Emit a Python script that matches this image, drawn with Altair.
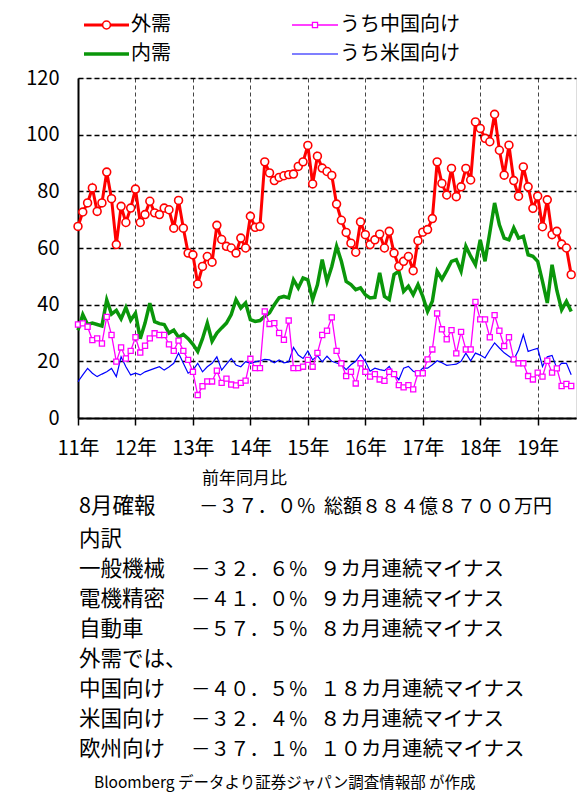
import altair as alt
import pandas as pd

# ---------------- data ----------------
YEAR_LABELS = ["11年", "12年", "13年", "14年", "15年", "16年", "17年", "18年", "19年"]
SERIES_NAMES = ["外需", "内需", "うち中国向け", "うち米国向け"]
Y_TICKS = [0, 20, 40, 60, 80, 100, 120]

gaiju = [67.6, 72.7, 75.9, 81.2, 72.9, 75.9, 86.8, 77.4, 61.2, 74.7, 69.0, 74.1,
         80.8, 69.0, 71.8, 76.5, 72.4, 71.8, 74.1, 73.5, 67.0, 76.8, 67.0, 58.2,
         57.6, 47.3, 53.5, 57.0, 55.0, 68.0, 63.0, 60.6, 60.0, 58.2, 63.5, 60.0,
         71.2, 67.3, 67.6, 90.4, 86.5, 83.8, 84.9, 85.5, 85.9, 86.1, 88.8, 90.4,
         96.2, 82.6, 92.4, 88.2, 87.0, 85.6, 75.5, 69.8, 65.5, 61.7, 58.5, 69.2,
         64.7, 61.2, 62.9, 64.9, 60.0, 65.9, 58.2, 53.5, 55.3, 57.0, 52.0, 62.6,
         65.6, 66.5, 70.4, 90.4, 82.8, 78.7, 88.1, 78.1, 81.6, 88.1, 84.0, 104.5,
         102.2, 98.7, 97.5, 107.2, 94.5, 85.7, 96.3, 83.8, 78.3, 88.6, 81.6, 74.0,
         78.3, 67.5, 77.0, 64.7, 65.9, 61.4, 60.0, 50.6]

naiju = [31.0, 36.5, 33.0, 33.5, 33.0, 32.5, 41.7, 36.7, 38.0, 35.0, 39.0, 34.5,
         37.0, 28.0, 33.5, 40.5, 34.0, 33.3, 33.0, 30.0, 31.0, 28.5, 29.5, 28.0,
         26.0, 23.5, 28.0, 33.5, 27.1, 30.0, 31.8, 33.5, 36.5, 41.8, 38.8, 40.6,
         34.7, 34.1, 34.4, 35.9, 37.1, 40.0, 42.4, 42.9, 42.4, 48.8, 45.9, 49.4,
         48.8, 41.8, 47.0, 55.9, 48.2, 53.5, 60.6, 55.3, 48.2, 47.1, 45.3, 45.9,
         43.5, 42.4, 42.6, 51.2, 42.9, 41.8, 50.6, 51.8, 44.7, 46.5, 43.5, 47.1,
         42.9, 37.6, 41.2, 51.8, 49.0, 52.0, 55.3, 55.9, 51.8, 60.6, 57.1, 54.1,
         62.9, 55.3, 65.5, 75.9, 68.2, 63.5, 62.9, 67.1, 63.5, 64.1, 57.6, 57.1,
         55.3, 48.2, 40.6, 54.1, 45.0, 38.2, 41.2, 37.6]

china = [33.0, 33.4, 32.2, 27.5, 28.1, 26.3, 35.7, 29.3, 19.9, 24.9, 21.0, 23.7,
         28.5, 23.1, 25.5, 28.1, 29.9, 29.3, 29.3, 26.0, 23.7, 27.3, 23.7, 20.5,
         16.3, 8.1, 11.2, 12.9, 12.9, 16.7, 12.4, 13.9, 11.8, 11.5, 12.4, 13.2,
         20.9, 17.6, 17.6, 37.6, 33.2, 33.5, 30.0, 27.6, 34.4, 17.6, 17.6, 18.1,
         20.5, 18.1, 23.0, 29.3, 30.8, 35.5, 23.7, 19.3, 14.8, 16.3, 12.2, 19.3,
         16.3, 14.6, 15.5, 13.6, 13.1, 16.3, 15.5, 11.6, 10.8, 11.6, 10.1, 15.8,
         15.8, 20.7, 24.2, 36.9, 31.3, 27.8, 31.0, 22.8, 30.4, 24.2, 24.2, 41.0,
         34.8, 34.8, 28.5, 36.3, 30.8, 25.4, 28.5, 20.7, 19.3, 19.3, 14.8, 13.6,
         16.0, 14.6, 20.2, 16.0, 17.5, 11.3, 12.0, 11.3]

usa = [12.8, 15.2, 17.5, 15.8, 14.6, 15.5, 16.3, 17.5, 14.6, 21.6, 18.1, 15.2,
       15.8, 15.2, 16.3, 16.9, 17.5, 18.1, 16.9, 18.0, 19.3, 22.9, 19.3, 15.8,
       16.9, 19.3, 16.3, 18.1, 19.3, 21.6, 16.9, 19.0, 21.0, 18.7, 18.1, 19.9,
       19.3, 19.8, 20.2, 20.7, 20.5, 19.5, 20.5, 19.5, 19.8, 24.9, 22.2, 21.0,
       23.7, 20.5, 22.0, 19.8, 21.8, 20.0, 19.4, 18.8, 17.1, 18.8, 20.0, 22.4,
       20.0, 16.5, 17.6, 17.1, 16.7, 18.2, 15.5, 13.5, 17.6, 18.2, 16.5, 15.9,
       17.6, 17.6, 18.8, 20.2, 19.5, 18.6, 18.8, 19.0, 20.0, 22.9, 20.2, 22.9,
       22.2, 21.2, 24.0, 26.5, 24.7, 23.0, 21.8, 20.6, 24.0, 29.4, 23.5, 24.1,
       24.6, 18.2, 21.6, 22.1, 17.5, 19.4, 19.3, 15.3]

NOTE_HEAD = "前年同月比"
NOTE_LABELS = ["8月確報", "内訳", "一般機械", "電機精密", "自動車", "外需では、",
               "中国向け", "米国向け", "欧州向け"]
NOTE_VALUES = ["－３７．０％", "", "－３２．６％", "－４１．０％", "－５７．５％", "",
               "－４０．５％", "－３２．４％", "－３７．１％"]
NOTE_DESCS = ["総額８８４億８７００万円", "", "９カ月連続マイナス", "９カ月連続マイナス",
              "８カ月連続マイナス", "", "１８カ月連続マイナス", " ８カ月連続マイナス",
              "１０カ月連続マイナス"]
SOURCE = "Bloomberg データより証券ジャパン調査情報部 が作成"

# ---------------- layout / style ----------------
FONT = "Noto Sans CJK JP"
W, H = 498, 340
N_MONTHS = 104
OX, OY = 78, 78  # page position of the plot origin
RED, GREEN, MAGENTA, BLUE = "#ff0000", "#0a960a", "#ff00ff", "#0000ff"

months = list(range(len(gaiju)))
wide = pd.DataFrame({"m": months, "外需": gaiju, "内需": naiju,
                     "うち中国向け": china, "うち米国向け": usa})
long = wide.melt(id_vars="m", var_name="series", value_name="v")

label_arr = "[" + ",".join("'%s'" % s for s in YEAR_LABELS) + "]"

x_enc = alt.X("m:Q",
              scale=alt.Scale(domain=[0, N_MONTHS], nice=False, zero=False),
              axis=alt.Axis(values=[12 * i for i in range(len(YEAR_LABELS))],
                            labelExpr=label_arr + "[round(datum.value/12)]",
                            title=None, grid=True, gridColor="#444", gridDash=[4, 3],
                            gridWidth=1, tickSize=7, tickColor="#000", tickWidth=1.5,
                            domainColor="#000", domainWidth=2,
                            labelFont=FONT, labelFontSize=20, labelColor="#000",
                            labelPadding=13, labelFlush=False))
y_enc = alt.Y("v:Q",
              scale=alt.Scale(domain=[0, 120], nice=False),
              axis=alt.Axis(values=Y_TICKS, title=None, grid=True, gridColor="#000",
                            gridDash=[5, 3], gridWidth=1.4, tickSize=0,
                            domainColor="#000", domainWidth=2,
                            labelFont=FONT, labelFontSize=20, labelColor="#000",
                            labelPadding=19))

base = alt.Chart(long)


def series(name):
    return base.transform_filter(alt.datum.series == name)


green_line = series("内需").mark_line(color=GREEN, strokeWidth=3.5).encode(x=x_enc, y=y_enc)
blue_line = series("うち米国向け").mark_line(color=BLUE, strokeWidth=1.2).encode(x="m:Q", y="v:Q")
mag_line = series("うち中国向け").mark_line(color=MAGENTA, strokeWidth=1.3).encode(x="m:Q", y="v:Q")
mag_pts = series("うち中国向け").mark_point(shape="square", filled=True, fill="white",
                                          stroke=MAGENTA, strokeWidth=1.3, size=26,
                                          opacity=1).encode(x="m:Q", y="v:Q")
red_line = series("外需").mark_line(color=RED, strokeWidth=3).encode(x="m:Q", y="v:Q")
red_pts = series("外需").mark_point(shape="circle", filled=True, fill="white", stroke=RED,
                                  strokeWidth=1.6, size=62, opacity=1).encode(x="m:Q", y="v:Q")

plot = alt.layer(green_line, blue_line, mag_line, mag_pts, red_line, red_pts)

# ---------------- legend (drawn in pixel space) ----------------
leg = pd.DataFrame({
    "label": SERIES_NAMES,
    "x1": [84 - OX, 84 - OX, 292 - OX, 292 - OX],
    "x2": [129 - OX, 129 - OX, 338 - OX, 338 - OX],
    "y": [25 - OY, 54 - OY, 25 - OY, 54 - OY],
    "sw": [3, 3.5, 1.3, 1.2],
})
leg["xm"] = (leg["x1"] + leg["x2"]) / 2
leg["xt"] = leg["x2"] + 2
col_scale = alt.Scale(domain=SERIES_NAMES, range=[RED, GREEN, MAGENTA, BLUE])
px = lambda f: alt.X(f, scale=None, axis=None)
py = lambda f: alt.Y(f, scale=None, axis=None)

leg_base = alt.Chart(leg)
leg_rules = leg_base.mark_rule().encode(
    x=px("x1:Q"), x2="x2:Q", y=py("y:Q"),
    color=alt.Color("label:N", scale=col_scale, legend=None),
    strokeWidth=alt.StrokeWidth("sw:Q", scale=None, legend=None))
leg_circle = leg_base.transform_filter(alt.datum.label == "外需").mark_point(
    shape="circle", filled=True, fill="white", stroke=RED, strokeWidth=1.6, size=62,
    opacity=1).encode(x=px("xm:Q"), y=py("y:Q"))
leg_square = leg_base.transform_filter(alt.datum.label == "うち中国向け").mark_point(
    shape="square", filled=True, fill="white", stroke=MAGENTA, strokeWidth=1.3, size=26,
    opacity=1).encode(x=px("xm:Q"), y=py("y:Q"))
leg_text = leg_base.mark_text(align="left", baseline="middle", font=FONT, fontSize=20,
                              color="#000").encode(x=px("xt:Q"), y=py("y:Q"), text="label:N")

# ---------------- notes below the chart ----------------
ROW_Y = [507, 540, 570, 600, 630, 660, 690, 720, 750]
rows = []
for i, (lab, val, desc) in enumerate(zip(NOTE_LABELS, NOTE_VALUES, NOTE_DESCS)):
    rows.append({"t": lab, "x": 79 - OX, "y": ROW_Y[i] - OY, "fs": 21.5})
    if val:
        rows.append({"t": val, "x": (199 if i == 0 else 191) - OX, "y": ROW_Y[i] - OY,
                     "fs": 19.5})
    if desc:
        if i == 0:
            rows.append({"t": desc, "x": 324 - OX, "y": ROW_Y[i] - OY, "fs": 19})
        else:
            rows.append({"t": desc, "x": 320 - OX, "y": ROW_Y[i] - OY, "fs": 20.5})
rows.append({"t": NOTE_HEAD, "x": 202 - OX, "y": 479 - OY, "fs": 17})
rows.append({"t": SOURCE, "x": 94 - OX, "y": 783 - OY, "fs": 15.5})
notes = pd.DataFrame(rows)

note_text = alt.Chart(notes).mark_text(align="left", baseline="middle", font=FONT,
                                       color="#000").encode(
    x=px("x:Q"), y=py("y:Q"), text="t:N", size=alt.Size("fs:Q", scale=None, legend=None))

overlay = alt.layer(leg_rules, leg_circle, leg_square, leg_text, note_text)

chart = alt.layer(plot, overlay).resolve_scale(
    x="independent", y="independent", color="independent", size="independent"
).properties(
    width=W, height=H,
    autosize=alt.AutoSizeParams(type="none"),
    padding={"left": OX - 8, "top": OY - 8, "right": 1, "bottom": 375},
).configure_view(stroke=None).configure(background="white")

chart.save("out.html", embed_options={"renderer": "svg", "actions": False})
